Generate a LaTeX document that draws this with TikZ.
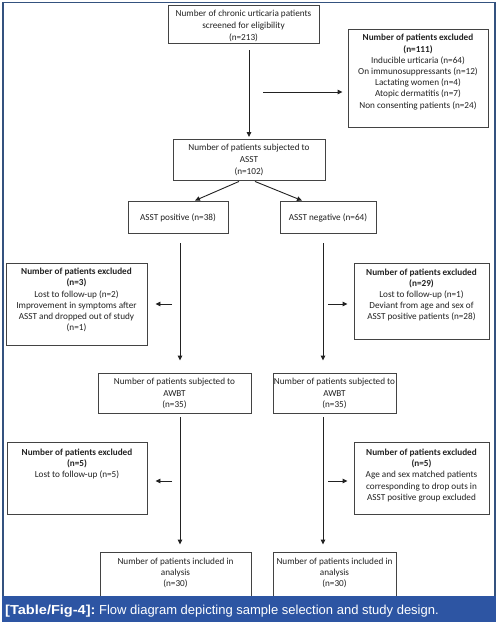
\documentclass[tikz,border=0pt]{standalone}
\usepackage{fontspec}
\usepackage{graphicx}
\setmainfont{Carlito}
\newfontfamily\capfont{Liberation Sans}
\usetikzlibrary{arrows.meta,calc}
\definecolor{frameblue}{HTML}{34527F}
\definecolor{capblue}{HTML}{2D55A3}
\definecolor{ink}{HTML}{222222}
\begin{document}
\begin{tikzpicture}[x=1pt,y=-1pt,
  bx/.style={draw=ink!85,line width=0.9pt,inner sep=0pt,rectangle},
  txt/.style={align=center,text=ink,inner sep=0pt,font=\fontsize{9.2}{11.2}\selectfont},
  txtw/.style={align=center,text=ink,inner sep=0pt,font=\fontsize{9.2}{12}\selectfont},
  arr/.style={draw=ink,line width=0.9pt,-{Triangle[length=5pt,width=4.5pt]}},
  ln/.style={draw=ink,line width=0.9pt}]
\useasboundingbox (0,0) rectangle (497,624);
\fill[white] (0,0) rectangle (497,624);
\draw[frameblue,line width=1.6pt] (3,597) -- (3,2.5) -- (495,2.5) -- (495,597);
% boxes
\node[bx,minimum width=151pt,minimum height=38pt] (top) at (243.5,24) {};
\node[txtw] (topt) at (243.5,26) {Number of chronic urticaria patients\\screened for eligibility\\(n=213)};
\node[bx,minimum width=140pt,minimum height=98pt] (exA) at (418,78) {};
\node[txt] (exAt) at (418,72) {\textbf{Number of patients excluded}\\\textbf{(n=111)}\\Inducible urticaria (n=64)\\On immunosuppressants (n=12)\\Lactating women (n=4)\\Atopic dermatitis (n=7)\\Non consenting patients (n=24)};
\node[bx,minimum width=152pt,minimum height=41pt] (asst) at (249,159.5) {};
\node[txtw] (asstt) at (249,160) {Number of patients subjected to\\ASST\\(n=102)};
\node[bx,minimum width=100pt,minimum height=32pt] (pos) at (178,217) {};
\node[txt] (post) at (178,217.5) {ASST positive (n=38)};
\node[bx,minimum width=96pt,minimum height=32pt] (neg) at (328,217) {};
\node[txt] (negt) at (328,217.5) {ASST negative (n=64)};
\node[bx,minimum width=141pt,minimum height=82pt] (exB) at (76.5,304) {};
\node[txt] (exBt) at (76.5,300) {\textbf{Number of patients excluded}\\\textbf{(n=3)}\\Lost to follow-up (n=2)\\Improvement in symptoms after\\ASST and dropped out of study\\(n=1)};
\node[bx,minimum width=135pt,minimum height=76pt] (exC) at (421.5,301) {};
\node[txt] (exCt) at (421.5,295) {\textbf{Number of patients excluded}\\\textbf{(n=29)}\\Lost to follow-up (n=1)\\Deviant from age and sex of\\ASST positive patients (n=28)};
\node[bx,minimum width=153pt,minimum height=40pt] (awL) at (174.5,393) {};
\node[txt] (awLt) at (174.5,393.5) {Number of patients subjected to\\AWBT\\(n=35)};
\node[bx,minimum width=123pt,minimum height=40pt] (awR) at (334.5,393) {};
\node[txt] (awRt) at (334.5,393.5) {Number of patients subjected to\\AWBT\\(n=35)};
\node[bx,minimum width=140pt,minimum height=72pt] (exD) at (77,478) {};
\node[txt] (exDt) at (77,464) {\textbf{Number of patients excluded}\\\textbf{(n=5)}\\Lost to follow-up (n=5)};
\node[bx,minimum width=135pt,minimum height=72pt] (exE) at (421.5,478) {};
\node[txt] (exEt) at (421.5,475.5) {\textbf{Number of patients excluded}\\\textbf{(n=5)}\\Age and sex matched patients\\corresponding to drop outs in\\ASST positive group excluded};
\node[bx,minimum width=151pt,minimum height=50pt] (anL) at (175.5,577) {};
\node[txt] (anLt) at (175.5,573) {Number of patients included in\\analysis\\(n=30)};
\node[bx,minimum width=123pt,minimum height=50pt] (anR) at (334.5,577) {};
\node[txt] (anRt) at (334.5,573) {Number of patients included in\\analysis\\(n=30)};
% coordinates
\coordinate (lx) at (180,0);
\coordinate (rx) at (323,0);
\coordinate (h1) at (263,92);
\coordinate (s1) at (172,304);
\coordinate (s2) at (328,304);
\coordinate (s3) at (172,481);
\coordinate (s4) at (328,481);
% connectors
\draw[arr,shorten <=7pt,shorten >=1.5pt] (asst.north |- top.south) -- (asst.north);
\draw[arr,shorten >=5pt] (h1) -- (h1 -| exA.west);
\draw[arr] ($(asst.south)+(-10,1)$) -- ($(pos.north)+(17,0)$);
\draw[arr] ($(asst.south)+(6,1)$) -- ($(neg.north)+(-26,0)$);
\draw[arr,shorten <=10pt,shorten >=12pt] (lx |- pos.south) -- (lx |- awL.north);
\draw[arr,shorten <=10pt,shorten >=12pt] (rx |- neg.south) -- (rx |- awR.north);
\draw[arr,shorten >=8pt] (s1) -- (s1 -| exB.east);
\draw[arr,shorten >=6pt] (s2) -- (s2 -| exC.west);
\draw[arr,shorten <=4pt,shorten >=7pt] (lx |- awL.south) -- (lx |- anL.north);
\draw[arr,shorten <=4pt,shorten >=7pt] (rx |- awR.south) -- (rx |- anR.north);
\draw[arr,shorten >=8pt] (s3) -- (s3 -| exD.east);
\draw[arr,shorten >=6pt] (s4) -- (s4 -| exE.west);
% caption band
\fill[capblue] (2,596) rectangle (496,621.5);
\node[anchor=base west,inner sep=0pt,text=white,font=\capfont\fontsize{13}{15}\selectfont] (cap) at (5,614) {\scalebox{1.12}[1]{\textbf{[Table/Fig-4]:}} Flow diagram depicting sample selection and study design.};
\end{tikzpicture}
\end{document}
